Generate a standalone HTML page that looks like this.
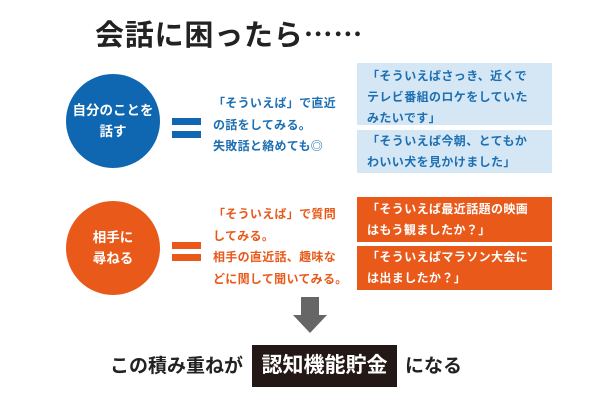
<!DOCTYPE html>
<html><head><meta charset="utf-8"><style>
body{margin:0;width:600px;height:400px;background:#fff;position:relative;overflow:hidden;font-family:"Liberation Sans","Noto Sans CJK JP",sans-serif;font-weight:bold}
.a{position:absolute;white-space:nowrap}
.c{position:absolute;border-radius:50%;color:#fff;display:flex;align-items:center;justify-content:center;text-align:center;font-size:13.5px;line-height:21px}
.bar{position:absolute;height:7px}
.t{position:absolute;font-size:12px;letter-spacing:0.3px;line-height:21.5px;white-space:nowrap}
.bx{position:absolute;left:357px;width:195px;font-size:12px;letter-spacing:0.4px;line-height:21px;padding-left:10px;box-sizing:border-box;white-space:nowrap}
</style></head><body>
<div class="a" style="left:95px;top:13px;font-size:29px;letter-spacing:0.8px;line-height:40px;color:#222;font-family:'Noto Sans CJK JP',sans-serif">会話に困ったら……</div>

<div class="c" style="left:66px;top:74px;width:94px;height:94px;background:#0f67b1">自分のことを<br>話す</div>
<div class="bar" style="left:172px;top:118px;width:29px;background:#0f67b1"></div>
<div class="bar" style="left:172px;top:131px;width:29px;background:#0f67b1"></div>
<div class="t" style="left:213px;top:93px;color:#1d6fb3">「そういえば」で直近<br>の話をしてみる。<br>失敗話と絡めても◎</div>
<div class="bx" style="top:63px;height:62px;background:#d5e7f4;color:#1d6fb3;padding-top:3px">「そういえばさっき、近くで<br>テレビ番組のロケをしていた<br>みたいです」</div>
<div class="bx" style="top:130px;height:43px;background:#d5e7f4;color:#1d6fb3;padding-top:1px">「そういえば今朝、とてもか<br>わいい犬を見かけました」</div>

<div class="c" style="left:66px;top:201px;width:94px;height:94px;background:#e8591a">相手に<br>尋ねる</div>
<div class="bar" style="left:172px;top:242px;width:29px;background:#e8591a"></div>
<div class="bar" style="left:172px;top:254px;width:29px;background:#e8591a"></div>
<div class="t" style="left:213px;top:204px;color:#e8591a">「そういえば」で質問<br>してみる。<br>相手の直近話、趣味な<br>どに関して聞いてみる。</div>
<div class="bx" style="top:197px;height:45px;background:#e8591a;color:#fff;padding-top:2px">「そういえば最近話題の映画<br>はもう観ましたか？」</div>
<div class="bx" style="top:246px;height:44px;background:#e8591a;color:#fff;padding-top:1px">「そういえばマラソン大会に<br>は出ましたか？」</div>

<div style="position:absolute;left:301px;top:297px;width:18px;height:18px;background:#666"></div>
<div style="position:absolute;left:293px;top:315px;width:0;height:0;border-left:17px solid transparent;border-right:17px solid transparent;border-top:18px solid #666"></div>

<div class="a" style="left:110px;top:353px;font-size:19px;line-height:28px;color:#222">この積み重ねが</div>
<div class="a" style="left:252px;top:345px;width:145px;height:42px;background:#231815;color:#fff;font-size:21px;line-height:42px;text-align:center">認知機能貯金</div>
<div class="a" style="left:405px;top:353px;font-size:19px;line-height:28px;color:#222">になる</div>
</body></html>
